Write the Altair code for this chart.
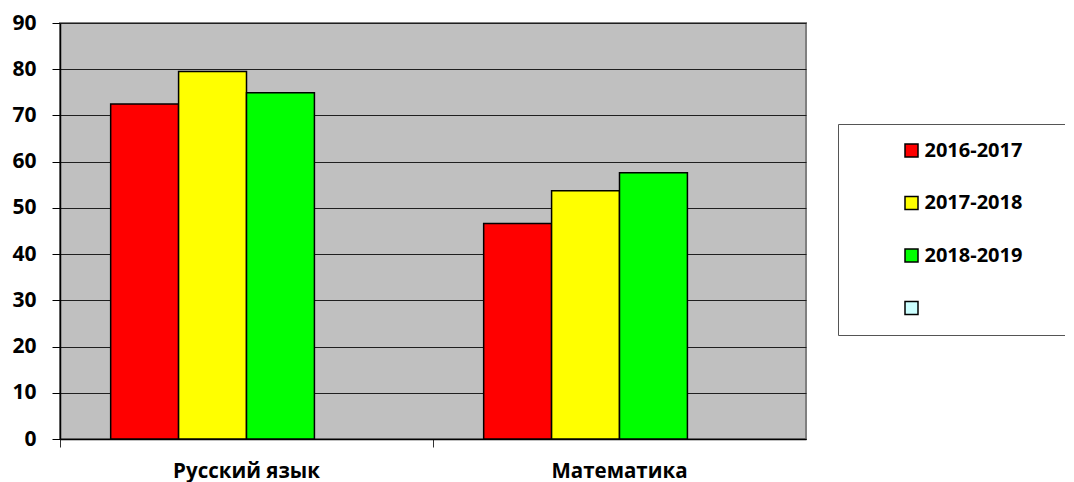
import altair as alt
import pandas as pd

subjects = ["Русский язык", "Математика"]
series = ["2016-2017", "2017-2018", "2018-2019"]
series_all = ["2016-2017", "2017-2018", "2018-2019", " "]
colors = ["#FF0000", "#FFFF00", "#00FF00", "#CCFFFF"]
values = {
    "2016-2017": [72.5, 46.6],
    "2017-2018": [79.5, 53.7],
    "2018-2019": [74.9, 57.6],
}
y_ticks = [0, 10, 20, 30, 40, 50, 60, 70, 80, 90]

rows = []
for s in series:
    for subj, v in zip(subjects, values[s]):
        rows.append({"subject": subj, "series": s, "value": v})
df = pd.DataFrame(rows)

FONT = "Open Sans"

chart = alt.Chart(df).mark_bar(stroke="black", strokeWidth=1.5).encode(
    x=alt.X("subject:N", sort=subjects,
            scale=alt.Scale(paddingInner=0, paddingOuter=0),
            axis=alt.Axis(title=None, labelAngle=0, bandPosition=0,
                          labelPadding=14,
                          labelFont=FONT, labelFontSize=20.5, labelFontWeight="bold",
                          labelColor="black", domainColor="black", domainWidth=1.5,
                          tickColor="#333", tickSize=8, tickWidth=1)),
    xOffset=alt.XOffset("series:N",
                        scale=alt.Scale(domain=series_all, paddingInner=0, paddingOuter=0.746)),
    y=alt.Y("value:Q",
            scale=alt.Scale(domain=[0, 90], nice=False),
            axis=alt.Axis(title=None, values=y_ticks, grid=True, gridColor="#1f1f1f",
                          gridWidth=1, labelFont=FONT, labelFontSize=21,
                          labelFontWeight="bold", labelColor="black", labelPadding=16,
                          domainColor="black", domainWidth=1.5,
                          tickColor="black", tickSize=8, tickWidth=1)),
    color=alt.Color("series:N",
                    scale=alt.Scale(domain=series_all, range=colors),
                    legend=alt.Legend(title=" ", titleOrient="right", titlePadding=60,
                                      titleFontSize=20, titleColor="white",
                                      orient="none", legendX=778, legendY=101,
                                      symbolType="square", symbolSize=169,
                                      symbolStrokeColor="black", symbolStrokeWidth=1.5,
                                      symbolOffset=47, labelOffset=3,
                                      labelFont=FONT, labelFontSize=20,
                                      labelFontWeight="bold", labelColor="black",
                                      rowPadding=32.5, padding=16.5,
                                      fillColor="white", strokeColor="#555")),
).properties(
    width=746,
    height=416,
    autosize=alt.AutoSizeParams(type="none"),
    padding={"left": 52, "top": 15, "right": 259, "bottom": 43},
).configure_view(
    fill="#C0C0C0", stroke="#808080", strokeWidth=2
)

chart.save("out.html", embed_options={"renderer": "svg", "actions": False})
